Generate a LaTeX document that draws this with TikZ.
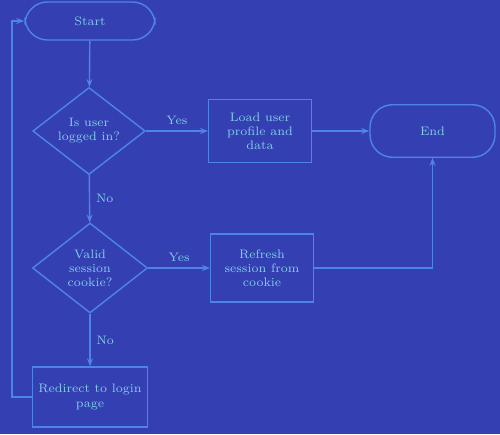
\documentclass[tikz,border=0pt]{standalone}
\usetikzlibrary{shapes.geometric,arrows.meta}

\definecolor{bgblue}{RGB}{52,64,178}
\definecolor{lineblue}{RGB}{78,132,232}
\definecolor{textblue}{RGB}{130,205,235}

\tikzset{
  term/.style={draw=lineblue,rounded corners=0.45cm,minimum width=2.6cm,minimum height=0.76cm,
    text=textblue,font=\scriptsize,align=center,line width=0.8pt},
  decide/.style={draw=lineblue,diamond,inner sep=0pt,minimum width=2.25cm,minimum height=1.65cm,
    text=textblue,font=\scriptsize,align=center,line width=0.8pt},
  proc/.style={draw=lineblue,minimum width=2.05cm,minimum height=1.25cm,
    text=textblue,font=\scriptsize,align=center,line width=0.8pt},
  flow/.style={draw=lineblue,line width=0.8pt,-{Stealth[length=1.6mm]}},
  lbl/.style={text=textblue,font=\scriptsize}
}

\begin{document}
\begin{tikzpicture}

\fill[bgblue] (0,0) rectangle (10,8.68);
\useasboundingbox (0,0) rectangle (10,8.68);

\node[term] (start) at (1.8,8.26) {Start};
\node[decide] (loggedin) at (1.78,6.06) {Is user\\ logged in?};
\node[proc] (loaddata) at (5.2,6.06) {Load user\\ profile and\\ data};
\node[term,minimum width=2.5cm,minimum height=1.05cm] (stop) at (8.65,6.06) {End};
\node[decide,minimum width=2.3cm,minimum height=1.8cm] (cookie) at (1.8,3.32) {Valid\\ session\\ cookie?};
\node[proc,minimum height=1.36cm] (refresh) at (5.24,3.32) {Refresh\\ session from\\ cookie};
\node[proc,minimum width=2.3cm,minimum height=1.2cm] (login) at (1.8,0.74) {Redirect to login\\ page};

\draw[flow] (start) -- (loggedin);
\draw[flow] (loggedin) -- node[lbl,above] {Yes} (loaddata);
\draw[flow] (loaddata) -- (stop);
\draw[flow] (loggedin) -- node[lbl,right] {No} (cookie);
\draw[flow] (cookie) -- node[lbl,above] {Yes} (refresh);
\draw[flow] (refresh) -| (stop);
\draw[flow] (cookie) -- node[lbl,right] {No} (login);

% back to the start
\draw[flow] (login.west) -- (0.24,0.74) |- (start.west);

\end{tikzpicture}
\end{document}
